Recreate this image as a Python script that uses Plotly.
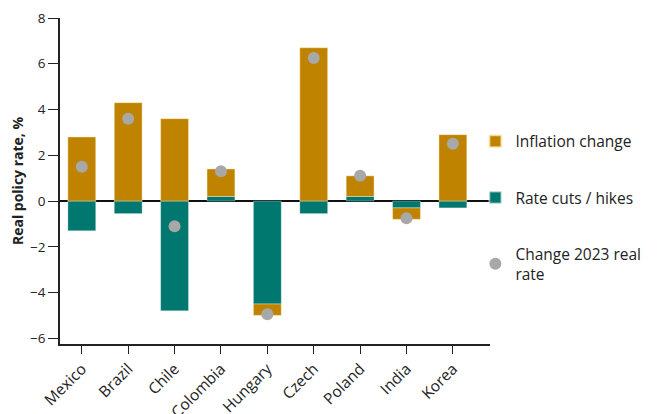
import plotly.graph_objects as go

countries = ["Mexico", "Brazil", "Chile", "Colombia", "Hungary", "Czech", "Poland", "India", "Korea"]
inflation_change = [2.8, 4.3, 3.6, 1.2, -0.5, 6.7, 0.9, -0.5, 2.9]
rate_cuts_hikes = [-1.3, -0.55, -4.8, 0.2, -4.5, -0.55, 0.2, -0.3, -0.3]
change_2023_real_rate = [1.5, 3.6, -1.1, 1.3, -4.95, 6.25, 1.1, -0.75, 2.5]

GOLD = "#BF8300"
TEAL = "#00776F"
GREY = "#A8A8A8"
FONT = "Open Sans, Noto Sans, sans-serif"

fig = go.Figure()
fig.add_trace(go.Bar(
    x=countries, y=rate_cuts_hikes, name="Rate cuts / hikes",
    marker=dict(color=TEAL, line=dict(color="rgba(255,255,255,0.5)", width=0.6)),
    width=0.6, legendrank=2, legendgroup="b",
))
fig.add_trace(go.Bar(
    x=countries, y=inflation_change, name="Inflation change",
    marker=dict(color=GOLD, line=dict(color="rgba(255,240,200,0.7)", width=0.6)),
    width=0.6, legendrank=1, legendgroup="a",
))
fig.add_trace(go.Scatter(
    x=countries, y=change_2023_real_rate, name="Change 2023 real<br>rate",
    mode="markers", marker=dict(color=GREY, size=12),
    legendrank=3, legendgroup="c",
))

# page body has an 8px default margin, so the figure is sized to fit inside the window
fig.update_layout(
    width=654, height=406,
    barmode="relative",
    plot_bgcolor="white", paper_bgcolor="white",
    margin=dict(l=52, r=172, t=10, b=70, autoexpand=False),
    font=dict(family=FONT, size=14, color="#222222"),
    showlegend=True,
    legend=dict(
        x=0.966, xanchor="left", y=0.418, yanchor="middle",
        font=dict(size=15.5, color="#222222"),
        tracegroupgap=33, itemsizing="constant", itemwidth=30,
        bgcolor="rgba(0,0,0,0)",
    ),
    xaxis=dict(
        range=[-0.47, 8.8], automargin=False,
        showline=True, linecolor="#222222", linewidth=1.5,
        ticks="outside", ticklen=8, tickcolor="#222222",
        tickangle=-45, tickfont=dict(size=15.5),
        showgrid=False, zeroline=False,
    ),
    yaxis=dict(
        range=[-6.25, 8], automargin=False,
        tickvals=[-6, -4, -2, 0, 2, 4, 6, 8],
        showline=True, linecolor="#222222", linewidth=1.5,
        ticks="outside", ticklen=10, tickcolor="#222222",
        tickfont=dict(size=13.5),
        showgrid=False,
        zeroline=True, zerolinecolor="#111111", zerolinewidth=1.5,
        title=dict(text="<b>Real policy rate, %</b>", font=dict(size=14), standoff=3),
    ),
)

fig.write_html("out.html")
